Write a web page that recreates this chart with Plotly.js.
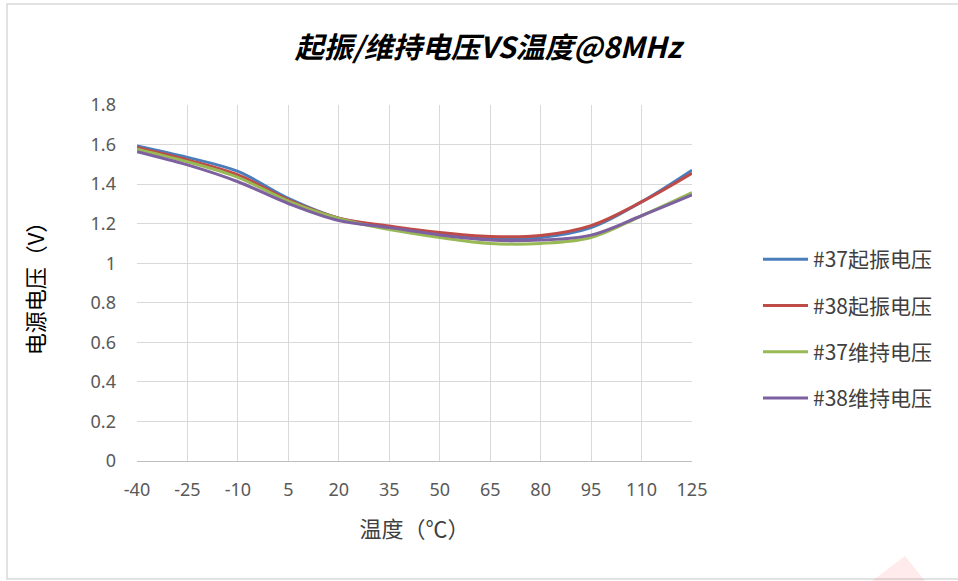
<!DOCTYPE html>
<html>
<head>
<meta charset="utf-8">
<script src="https://cdn.plot.ly/plotly-3.0.1.min.js"></script>
<style>html,body{margin:0;padding:0;background:#fff;}#chart{width:958px;height:581px;}</style>
</head>
<body>
<div id="chart"></div>
<script>
// Temperature categories (°C)
const temps = ['-40','-25','-10','5','20','35','50','65','80','95','110','125'];
// Series values (V)
const s37Start = [1.593,1.535,1.464,1.328,1.228,1.183,1.145,1.125,1.130,1.180,1.310,1.470];
const s38Start = [1.585,1.522,1.446,1.320,1.228,1.188,1.155,1.135,1.140,1.190,1.310,1.455];
const s37Hold  = [1.577,1.513,1.434,1.314,1.226,1.170,1.130,1.100,1.100,1.130,1.240,1.357];
const s38Hold  = [1.564,1.497,1.412,1.302,1.216,1.180,1.143,1.117,1.117,1.142,1.240,1.345];
const seriesNames = ['#37起振电压','#38起振电压','#37维持电压','#38维持电压'];
const seriesColors = ['#4a7ebb','#be4b48','#98b954','#7d60a0'];
const yTicks = [0,0.2,0.4,0.6,0.8,1,1.2,1.4,1.6,1.8];

const allSeries = [s37Start, s38Start, s37Hold, s38Hold];
const traces = allSeries.map((vals, i) => ({
  type: 'scatter', mode: 'lines', x: temps, y: vals, name: seriesNames[i],
  legendgroup: 'g' + i,
  line: {color: seriesColors[i], width: 3, shape: 'spline', smoothing: 1}
}));

const W = 958, H = 581, L = 137, R = 266, T = 105, B = 120;
const pw = W - L - R, ph = H - T - B;
const px = v => (v - L) / pw;
const py = v => (H - B - v) / ph;

const layout = {
  width: W, height: H,
  margin: {l: L, r: R, t: T, b: B, pad: 0},
  paper_bgcolor: '#ffffff', plot_bgcolor: '#ffffff',
  font: {family: '"Noto Sans", "Noto Sans CJK SC", sans-serif', color: '#595959', size: 18},
  title: {
    text: '<b><i>起振/维持电压VS温度@8MHz</i></b>',
    font: {family: '"Noto Sans CJK SC", "Noto Sans", sans-serif', size: 29, color: '#000000'},
    xref: 'container', yref: 'container', x: 488 / W, y: 1 - 48 / H, xanchor: 'center', yanchor: 'middle'
  },
  xaxis: {
    type: 'category', range: [0, temps.length - 1],
    showgrid: true, gridcolor: '#d9d9d9', gridwidth: 1,
    showline: true, linecolor: '#bfbfbf', linewidth: 1,
    ticks: '', ticklabelstandoff: 12,
    tickfont: {family: '"Noto Sans", sans-serif', size: 18, color: '#595959'},
    zeroline: false,
    title: {text: '温度（℃）', font: {family: '"Noto Sans CJK SC", sans-serif', size: 22, color: '#404040'}, standoff: 22}
  },
  yaxis: {
    range: [0, 1.8], tickvals: yTicks,
    showgrid: true, gridcolor: '#d9d9d9', gridwidth: 1,
    showline: false, zeroline: false, ticks: '', ticklabelstandoff: 20,
    tickfont: {family: '"Noto Sans", sans-serif', size: 18, color: '#595959'},
    title: {text: '电源电压（V）', font: {family: '"Noto Sans CJK SC", sans-serif', size: 22, color: '#000000'}, standoff: 39}
  },
  showlegend: true,
  legend: {
    x: px(758), y: py(329), xanchor: 'left', yanchor: 'middle',
    font: {family: '"Noto Sans CJK SC", "Noto Sans", sans-serif', size: 21, color: '#404040'},
    tracegroupgap: 16, bgcolor: 'rgba(0,0,0,0)', traceorder: 'grouped', itemwidth: 45
  },
  shapes: [
    {type: 'rect', xref: 'paper', yref: 'paper', x0: px(7), x1: px(962), y0: py(579), y1: py(4),
     line: {color: '#d9d9d9', width: 1.5}, fillcolor: 'rgba(0,0,0,0)', layer: 'below'},
    {type: 'path', xref: 'paper', yref: 'paper',
     path: 'M ' + px(872) + ' ' + py(581) + ' L ' + px(905) + ' ' + py(556) + ' L ' + px(925) + ' ' + py(581) + ' Z',
     fillcolor: 'rgba(255,120,120,0.15)', line: {width: 0}, layer: 'below'}
  ]
};

Plotly.newPlot('chart', traces, layout, {displayModeBar: false, staticPlot: true});
</script>
</body>
</html>
